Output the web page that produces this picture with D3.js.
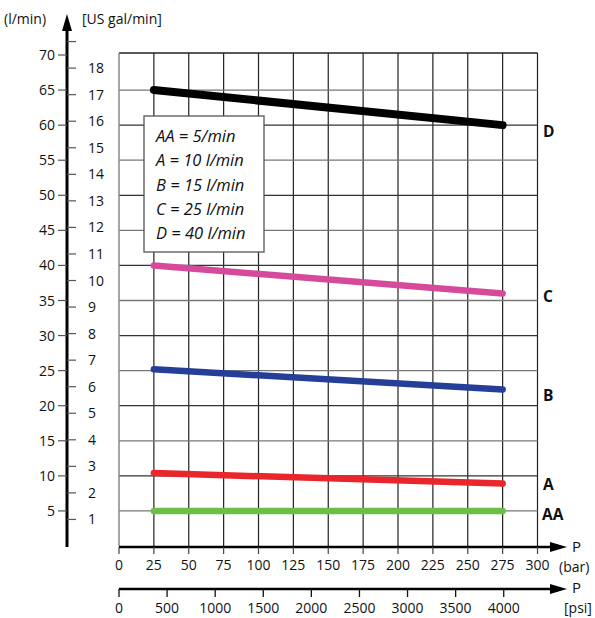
<!DOCTYPE html>
<html><head><meta charset="utf-8">
<script src="https://cdn.jsdelivr.net/npm/d3@7"></script>
<style>body{margin:0;background:#fff}svg{display:block;font-family:"Open Sans","Noto Sans",sans-serif}</style>
</head><body>
<script>
// ---- data ----
const pressureBar = [25, 275];
const seriesNames = ["AA", "A", "B", "C", "D"];
const seriesValues = {
  AA: [5, 5],
  A: [10.4, 8.9],
  B: [25.2, 22.3],
  C: [40.0, 36.0],
  D: [65.0, 60.0]
};
const seriesColors = {AA: "#6cbf46", A: "#e8262b", B: "#253f98", C: "#d64a9c", D: "#000000"};
const legendLines = ["AA = 5/min", "A = 10 l/min", "B = 15 l/min", "C = 25 l/min", "D = 40 l/min"];
const lminTicks = [5,10,15,20,25,30,35,40,45,50,55,60,65,70];
const galTicks = [1,2,3,4,5,6,7,8,9,10,11,12,13,14,15,16,17,18];
const barTicks = [0,25,50,75,100,125,150,175,200,225,250,275,300];
const psiTicks = [0,500,1000,1500,2000,2500,3000,3500,4000];
const gridY = [5,10,15,20,25,30,35,40,45,50,55,60,65];
const L_PER_GAL = 3.785;
const PSI_PER_BAR = 14.5038;

const W = 595, H = 618;
const svg = d3.select("body").append("svg").attr("width", W).attr("height", H);

const x = d3.scaleLinear().domain([0, 300]).range([119, 537.5]);
const y = d3.scaleLinear().domain([0, 70]).range([546, 55]);
const axisX = 67;
const plotTop = 53;
const FS = 14;

// grid
const g = svg.append("g");
g.selectAll(".vg").data(barTicks.slice(1)).join("line")
  .attr("x1", d => x(d)).attr("x2", d => x(d))
  .attr("y1", plotTop).attr("y2", y(0))
  .attr("stroke", "#222").attr("stroke-width", 1.2);
g.selectAll(".hg").data(gridY).join("line")
  .attr("x1", x(0)).attr("x2", x(300))
  .attr("y1", d => y(d)).attr("y2", d => y(d))
  .attr("stroke", (d,i) => i % 2 ? "#333" : "#777").attr("stroke-width", 1.3);
g.append("line").attr("x1", x(0)).attr("x2", x(300)).attr("y1", plotTop).attr("y2", plotTop)
  .attr("stroke", "#222").attr("stroke-width", 1.3);
g.append("line").attr("x1", x(0)).attr("x2", x(0)).attr("y1", plotTop).attr("y2", y(0))
  .attr("stroke", "#888").attr("stroke-width", 1.5);

// left vertical axis
svg.append("line").attr("x1", axisX).attr("x2", axisX).attr("y1", 28).attr("y2", 547)
  .attr("stroke", "#000").attr("stroke-width", 3);
svg.append("path").attr("d", `M${axisX-5},31 L${axisX},14 L${axisX+5},31 Z`).attr("fill", "#000");
// l/min ticks
svg.selectAll(".lt").data(lminTicks).join("line")
  .attr("x1", axisX - 9).attr("x2", axisX).attr("y1", d => y(d)).attr("y2", d => y(d))
  .attr("stroke", "#555").attr("stroke-width", 1.2);
svg.selectAll(".ll").data(lminTicks).join("text")
  .attr("x", axisX - 12).attr("y", d => y(d) + 5).attr("text-anchor", "end")
  .attr("font-size", FS).attr("fill", "#111").text(d => d);
// gal ticks
svg.selectAll(".gt").data(galTicks.concat([19])).join("line")
  .attr("x1", axisX).attr("x2", axisX + 9).attr("y1", d => y(d * L_PER_GAL)).attr("y2", d => y(d * L_PER_GAL))
  .attr("stroke", "#555").attr("stroke-width", 1.2);
svg.selectAll(".gl").data(galTicks).join("text")
  .attr("x", axisX + 21).attr("y", d => y(d * L_PER_GAL) + 5)
  .attr("font-size", FS).attr("fill", "#111").text(d => d);
svg.append("text").attr("x", 4).attr("y", 24).attr("font-size", FS).attr("fill", "#111").text("(l/min)");
svg.append("text").attr("x", 82).attr("y", 24).attr("font-size", FS).attr("fill", "#111").text("[US gal/min]");

// bar axis
const barY = 547;
svg.append("line").attr("x1", x(0)).attr("x2", 552).attr("y1", barY).attr("y2", barY)
  .attr("stroke", "#000").attr("stroke-width", 2.5);
svg.append("path").attr("d", `M550,${barY-5} L567,${barY} L550,${barY+5} Z`).attr("fill", "#000");
svg.selectAll(".bt").data(barTicks).join("line")
  .attr("x1", d => x(d)).attr("x2", d => x(d)).attr("y1", barY).attr("y2", barY + 7)
  .attr("stroke", "#444").attr("stroke-width", 1.2);
svg.selectAll(".bl").data(barTicks).join("text")
  .attr("x", d => x(d)).attr("y", 570).attr("text-anchor", "middle")
  .attr("font-size", FS).attr("fill", "#111").text(d => d);
svg.append("text").attr("x", 572).attr("y", 551.5).attr("font-size", 15).attr("fill", "#111").text("P");
svg.append("text").attr("x", 559).attr("y", 571.5).attr("font-size", FS).attr("fill", "#111").text("(bar)");

// psi axis
const psiY = 589;
const xp = v => x(v / PSI_PER_BAR);
svg.append("line").attr("x1", x(0)).attr("x2", 552).attr("y1", psiY).attr("y2", psiY)
  .attr("stroke", "#000").attr("stroke-width", 2.5);
svg.append("path").attr("d", `M550,${psiY-5} L567,${psiY} L550,${psiY+5} Z`).attr("fill", "#000");
svg.selectAll(".pt").data(psiTicks).join("line")
  .attr("x1", d => xp(d)).attr("x2", d => xp(d)).attr("y1", psiY).attr("y2", psiY + 8)
  .attr("stroke", "#111").attr("stroke-width", 1.3);
svg.selectAll(".pl").data(psiTicks).join("text")
  .attr("x", d => xp(d)).attr("y", 613).attr("text-anchor", "middle")
  .attr("font-size", FS).attr("fill", "#111").text(d => d);
svg.append("text").attr("x", 572).attr("y", 593).attr("font-size", 15).attr("fill", "#111").text("P");
svg.append("text").attr("x", 564).attr("y", 613).attr("font-size", FS).attr("fill", "#111").text("[psi]");

// series lines
const line = d3.line().x((d, i) => x(pressureBar[i])).y(d => y(d));
seriesNames.forEach(n => {
  svg.append("path").datum(seriesValues[n]).attr("d", line)
    .attr("fill", "none").attr("stroke", seriesColors[n])
    .attr("stroke-width", n === "D" ? 8 : 6.5).attr("stroke-linecap", "round");
});
// series labels
const labelOffset = {AA: 9, A: 6, B: 11, C: 9, D: 12};
seriesNames.forEach(n => {
  const v = seriesValues[n][1];
  svg.append("text").attr("x", n === "AA" ? 542 : 543).attr("y", y(v) + labelOffset[n])
    .attr("font-size", 15.5).attr("font-weight", "bold").attr("fill", "#111").text(n);
});

// legend box
svg.append("rect").attr("x", 144).attr("y", 116).attr("width", 120).attr("height", 136)
  .attr("fill", "#fff").attr("stroke", "#555").attr("stroke-width", 1.3);
svg.selectAll(".lg").data(legendLines).join("text")
  .attr("x", 156).attr("y", (d, i) => 142 + i * 24.3)
  .attr("font-size", 16.5).attr("font-style", "italic").attr("fill", "#111").text(d => d);
</script>
</body></html>
